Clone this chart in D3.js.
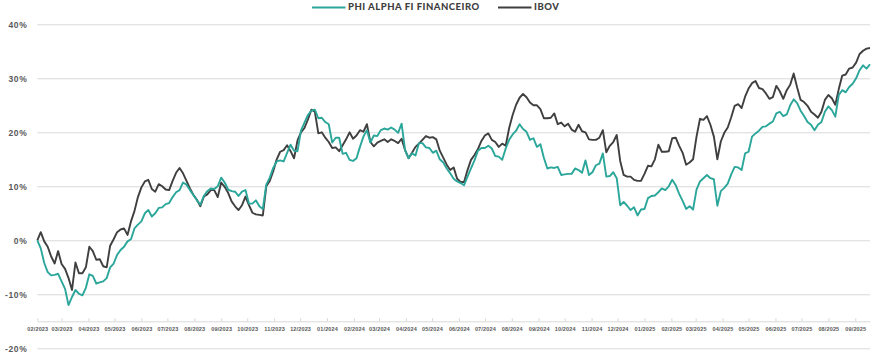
<!DOCTYPE html>
<html>
<head>
<meta charset="utf-8">
<script src="https://cdn.jsdelivr.net/npm/d3@7"></script>
<style>
  body { margin: 0; background: #fff; }
  svg { display: block; font-family: Lato, "DejaVu Sans", sans-serif; }
</style>
</head>
<body>
<svg id="chart"></svg>
<script>
// series names
const seriesNames = ["PHI ALPHA FI FINANCEIRO", "IBOV"];

// sampling grid: one point every 4 days from 01/02/2023
const startDate = new Date(2023, 1, 1);
const stepDays = 4;

// accumulated return (%)
const phiAlpha = [
  0.0, -1.5, -4.2, -5.9, -6.5, -6.4, -6.2, -7.6, -9.0, -12.0,
  -10.5, -9.2, -9.9, -10.2, -8.8, -6.3, -6.6, -8.0, -7.8, -7.6,
  -7.0, -5.0, -4.3, -2.7, -1.8, -1.2, -0.2, 0.2, 2.2, 2.9,
  3.5, 5.0, 5.6, 4.4, 5.0, 6.0, 6.1, 6.7, 6.9, 8.0,
  8.9, 9.3, 10.7, 10.3, 9.3, 8.4, 7.4, 6.6, 8.2, 9.1,
  9.6, 9.5, 10.0, 11.6, 10.7, 9.4, 9.1, 9.0, 8.2, 9.0,
  9.3, 6.8, 6.8, 7.4, 6.3, 5.8, 10.3, 11.6, 13.4, 14.6,
  14.8, 14.6, 16.2, 17.7, 16.6, 16.5, 20.3, 21.8, 23.2, 24.0,
  24.2, 22.6,
  22.7, 21.9, 21.5, 18.1, 19.0, 19.0, 16.0, 16.2, 14.9, 14.7,
  15.2, 17.3, 19.2, 20.4, 18.1, 19.4, 19.3, 20.4, 20.7, 20.5,
  20.9, 20.5, 19.9, 21.6, 16.7, 15.2, 16.1, 15.7, 18.0, 18.0,
  17.2, 17.1, 16.2, 16.6, 15.0, 14.4, 13.3, 12.4, 11.4, 10.9,
  10.6, 10.2, 11.8, 13.3, 14.8, 16.6, 17.1, 17.1, 17.5, 17.0,
  15.6, 15.5, 14.9, 17.0, 18.6, 19.6, 20.3, 21.5, 20.6, 20.1,
  18.6, 18.9, 17.3, 17.8, 15.3, 13.3, 13.5, 13.4, 13.6, 12.1,
  12.2, 12.3, 12.3, 13.3, 13.0, 12.5, 14.8, 12.1,
  12.6, 13.9, 14.2, 16.1, 11.8, 11.9, 12.6, 11.5, 6.5, 7.1,
  6.4, 5.6, 6.1, 4.6, 5.7, 5.8, 7.8, 8.2, 8.3, 8.9,
  9.6, 9.3, 10.0, 11.2, 10.2, 8.6, 7.3, 5.8, 6.3, 5.7,
  9.4, 10.9, 11.5, 12.1, 11.5, 11.3, 6.4, 9.1, 9.7, 10.5,
  12.2, 13.6, 13.5, 13.0, 16.1, 16.4, 19.2, 19.8, 20.3, 21.0,
  21.1, 21.6, 22.0, 23.5, 23.8, 23.0, 23.3, 25.0, 26.1, 25.4,
  24.0, 23.0, 21.9, 21.4, 20.4, 21.4, 21.9, 23.8, 24.8, 24.1,
  22.9, 26.9, 27.8, 27.4, 28.4, 29.0, 30.0, 31.5, 32.4, 31.8,
  32.6
];

const ibov = [
  0.0, 1.5, -0.2, -1.2, -3.0, -4.3, -2.0, -4.4, -5.3, -7.0,
  -9.2, -4.1, -6.1, -6.1, -5.0, -1.2, -2.0, -3.6, -3.5, -4.8,
  -5.0, -1.0, 0.2, 1.5, 2.0, 2.2, 1.0, 3.5, 5.4, 8.0,
  9.8, 10.9, 11.2, 9.5, 9.0, 10.4, 10.0, 9.4, 9.3, 11.0,
  12.5, 13.4, 12.4, 11.0, 9.6, 8.4, 7.5, 6.3, 8.1, 8.5,
  9.3, 9.3, 8.0, 10.7, 9.9, 8.8, 7.2, 6.3, 5.6, 6.5,
  8.1, 6.5, 5.1, 4.8, 4.7, 4.6, 10.0, 11.0, 12.8, 15.0,
  16.4, 16.7, 17.6, 16.5, 15.2, 18.5, 20.0, 20.8, 22.4, 24.2,
  23.8, 19.8,
  20.0, 19.0, 18.2, 17.1, 17.2, 16.5, 17.6, 18.7, 20.0, 18.8,
  19.4, 20.4, 20.1, 21.5, 18.2, 17.4, 18.1, 18.4, 18.7, 18.2,
  18.7, 18.4, 18.0, 18.8, 16.7, 15.2, 16.2, 17.3, 17.9, 18.6,
  19.3, 19.0, 19.1, 18.7, 16.6, 15.3, 14.0, 13.0, 13.5, 11.4,
  10.8, 10.8, 13.0, 14.9, 15.8, 16.9, 18.4, 19.4, 19.8, 18.6,
  18.2, 17.3, 17.9, 17.5, 20.8, 23.2, 25.1, 26.4, 27.1, 26.5,
  25.5, 25.0, 25.0, 24.3, 22.6, 22.6, 22.7, 23.5, 21.5, 21.8,
  21.1, 21.6, 20.5, 20.1, 21.4, 20.2, 20.0, 18.7,
  18.6, 18.6, 19.0, 20.4, 16.3, 17.5, 18.2, 19.5, 14.7, 12.1,
  11.8, 11.8, 11.2, 11.0, 11.0, 12.3, 13.8, 13.7, 15.0, 17.7,
  16.4, 16.4, 16.5, 18.9, 19.0, 17.5, 16.2, 14.0, 14.4, 15.0,
  19.2, 22.5, 22.3, 23.0, 21.4, 19.2, 15.0, 18.3, 19.9, 20.9,
  22.8, 24.9, 25.2, 24.5, 26.6, 28.1, 29.1, 29.5, 28.2, 28.0,
  27.2, 26.2, 26.5, 28.6, 27.6, 26.2, 27.8, 28.8, 30.9, 28.3,
  26.0, 25.6, 24.9, 23.8, 23.3, 22.7, 23.8, 26.0, 26.9, 26.3,
  25.1, 28.0, 30.5, 30.7, 31.8, 32.0, 32.9, 34.5, 35.1, 35.5,
  35.6
];

const yTicks = [-20, -10, 0, 10, 20, 30, 40];
const colors = ["#2ba69a", "#3f3f3f"];

const dates = phiAlpha.map((v, i) => d3.timeDay.offset(startDate, i * stepDays));

const width = 880;
const height = 359;

const x = d3.scaleTime()
    .domain([startDate, dates[dates.length - 1]])
    .range([37.3, 870]);

const y = d3.scaleLinear()
    .domain([-20, 40])
    .range([348.3, 24.3]);

const svg = d3.select("#chart")
    .attr("width", width)
    .attr("height", height);

// y grid + labels
const yAxis = d3.axisLeft(y)
    .tickValues(yTicks)
    .tickSize(-(x.range()[1] - x.range()[0]))
    .tickPadding(10)
    .tickFormat(d => d + "%");

svg.append("g")
    .attr("transform", `translate(${x.range()[0]},0)`)
    .call(yAxis)
    .call(g => g.select(".domain").remove())
    .call(g => g.selectAll(".tick line").attr("stroke", "#d9d9d9").attr("stroke-width", 1))
    .call(g => g.selectAll(".tick text")
        .attr("fill", "#595959")
        .style("font-size", "8.5px")
        .style("font-weight", "700")
        .style("letter-spacing", "0.6px"));

// x axis (months)
const xAxis = d3.axisBottom(x)
    .ticks(d3.timeMonth.every(1))
    .tickFormat(d3.timeFormat("%m/%Y"))
    .tickSizeInner(-3)
    .tickSizeOuter(0)
    .tickPadding(6);

svg.append("g")
    .attr("transform", `translate(0,${y(-15)})`)
    .call(xAxis)
    .call(g => g.select(".domain").attr("stroke", "#d9d9d9"))
    .call(g => g.selectAll(".tick line").attr("stroke", "#d9d9d9"))
    .call(g => g.selectAll(".tick text")
        .attr("fill", "#595959")
        .style("font-size", "5.5px")
        .style("font-weight", "700")
        .style("letter-spacing", "0.15px"));

// lines
const line = d3.line()
    .x((d, i) => x(dates[i]))
    .y(d => y(d));

svg.append("path")
    .datum(ibov)
    .attr("fill", "none")
    .attr("stroke", colors[1])
    .attr("stroke-width", 1.9)
    .attr("stroke-linejoin", "round")
    .attr("d", line);

svg.append("path")
    .datum(phiAlpha)
    .attr("fill", "none")
    .attr("stroke", colors[0])
    .attr("stroke-width", 1.9)
    .attr("stroke-linejoin", "round")
    .attr("d", line);

// legend
const legendItems = [
  {name: seriesNames[0], color: colors[0], x: 312},
  {name: seriesNames[1], color: colors[1], x: 498}
];

const legend = svg.append("g").attr("class", "legend");
legendItems.forEach(item => {
  legend.append("line")
      .attr("x1", item.x).attr("x2", item.x + 33.5)
      .attr("y1", 7.5).attr("y2", 7.5)
      .attr("stroke", item.color)
      .attr("stroke-width", 2.2);
  legend.append("text")
      .attr("x", item.x + 36)
      .attr("y", 7)
      .attr("dy", "0.35em")
      .attr("fill", "#404040")
      .style("font-size", "9.5px")
      .style("font-weight", "900")
      .style("letter-spacing", "0.5px")
      .text(item.name);
});
</script>
</body>
</html>
